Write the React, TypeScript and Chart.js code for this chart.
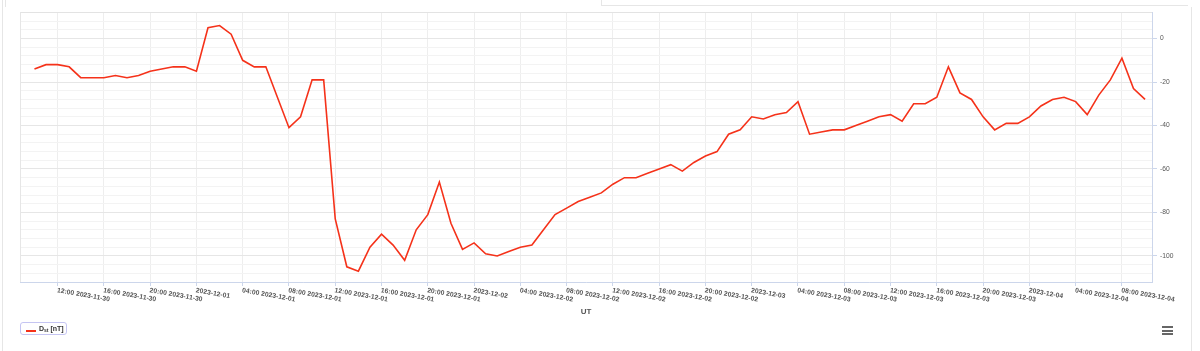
import React, { useEffect, useRef } from "react";
import { Chart, registerables } from "chart.js";

Chart.register(...registerables);

// Hourly Dst values starting 2023-11-30 10:00 UT (x = hours since 2023-11-30 00:00)
const firstHour = 10;
const dstValues = [
  -14, -12, -12, -13, -18, -18, -18, -17, -18, -17, -15, -14, -13, -13, -15, 5, 6, 2, -10, -13,
  -13, -27, -41, -36, -19, -19, -83, -105, -107, -96, -90, -95, -102, -88, -81, -66, -85, -97, -94, -99,
  -100, -98, -96, -95, -88, -81, -78, -75, -73, -71, -67, -64, -64, -62, -60, -58, -61, -57, -54, -52,
  -44, -42, -36, -37, -35, -34, -29, -44, -43, -42, -42, -40, -38, -36, -35, -38, -30, -30, -27, -13,
  -25, -28, -36, -42, -39, -39, -36, -31, -28, -27, -29, -35, -26, -19, -9, -23, -28,
];

const xTickHours = [12, 16, 20, 24, 28, 32, 36, 40, 44, 48, 52, 56, 60, 64, 68, 72, 76, 80, 84, 88, 92, 96, 100, 104];
const xTickLabels = [
  "12:00 2023-11-30", "16:00 2023-11-30", "20:00 2023-11-30", "2023-12-01",
  "04:00 2023-12-01", "08:00 2023-12-01", "12:00 2023-12-01", "16:00 2023-12-01",
  "20:00 2023-12-01", "2023-12-02", "04:00 2023-12-02", "08:00 2023-12-02",
  "12:00 2023-12-02", "16:00 2023-12-02", "20:00 2023-12-02", "2023-12-03",
  "04:00 2023-12-03", "08:00 2023-12-03", "12:00 2023-12-03", "16:00 2023-12-03",
  "20:00 2023-12-03", "2023-12-04", "04:00 2023-12-04", "08:00 2023-12-04",
];
const xMin = 8.75;
const xMax = 106.6;
const yMin = -112;
const yMax = 12;
const yStep = 4;
const yLabelStep = 20;
const xTitle = "UT";

const FONT = '"Liberation Sans", Arial, sans-serif';

const labelsPlugin = {
  id: "customLabels",
  beforeDatasetsDraw(chart: any) {
    const { ctx, chartArea } = chart;
    ctx.save();
    ctx.strokeStyle = "#e6e6e6";
    ctx.lineWidth = 1;
    ctx.beginPath();
    ctx.moveTo(chartArea.left + 0.5, chartArea.bottom);
    ctx.lineTo(chartArea.left + 0.5, chartArea.top);
    ctx.stroke();
    ctx.restore();
  },
  afterDraw(chart: any) {
    const { ctx, chartArea } = chart;
    const xs = chart.scales.x;
    ctx.save();
    ctx.font = `bold 6.8px ${FONT}`;
    ctx.fillStyle = "#555";
    ctx.textAlign = "left";
    ctx.textBaseline = "top";
    xTickHours.forEach((h, k) => {
      const x = xs.getPixelForValue(h);
      ctx.save();
      ctx.translate(x, 287);
      ctx.rotate((10 * Math.PI) / 180);
      ctx.fillText(xTickLabels[k], 0, 0);
      ctx.restore();
    });
    ctx.font = `bold 8px ${FONT}`;
    ctx.textAlign = "center";
    ctx.textBaseline = "middle";
    ctx.fillStyle = "#555";
    ctx.fillText(xTitle, (chartArea.left + chartArea.right) / 2, 312);
    ctx.restore();
  },
};

export default function App() {
  const canvasRef = useRef<HTMLCanvasElement | null>(null);

  useEffect(() => {
    if (!canvasRef.current) return;
    const points = dstValues.map((v, i) => ({ x: firstHour + i, y: v }));
    const chart = new Chart(canvasRef.current, {
      type: "line",
      data: {
        datasets: [
          {
            label: "Dst [nT]",
            data: points,
            borderColor: "#f5321a",
            borderWidth: 1.6,
            pointRadius: 0,
            tension: 0,
            fill: false,
          },
        ],
      },
      options: {
        responsive: false,
        animation: false,
        devicePixelRatio: 1,
        layout: { padding: { left: 20, top: 12.5, right: 0, bottom: 0 } },
        plugins: { legend: { display: false }, tooltip: { enabled: false } },
        scales: {
          x: {
            type: "linear",
            min: xMin,
            max: xMax,
            afterBuildTicks: (scale: any) => {
              scale.ticks = xTickHours.map((v) => ({ value: v }));
            },
            afterFit: (scale: any) => {
              scale.height = 69;
            },
            ticks: { display: false },
            grid: {
              color: "#eeeeee",
              drawTicks: true,
              tickLength: 4,
              tickColor: "#ccd6eb",
            },
            border: { display: true, color: "#ccd6eb" },
          },
          y: {
            position: "right",
            min: yMin,
            max: yMax,
            afterFit: (scale: any) => {
              scale.width = 48;
            },
            ticks: {
              stepSize: yStep,
              autoSkip: false,
              padding: 3,
              color: "#555",
              font: { family: FONT, size: 6.7 },
              callback: (v: any) => (Number(v) % yLabelStep === 0 ? String(v) : ""),
            },
            grid: {
              color: (c: any) => {
                const v = c.tick ? c.tick.value : 0;
                if (v === yMax) return "#e3e3e3";
                return v % yLabelStep === 0 ? "#e6e6e6" : "#f3f3f3";
              },
              tickColor: (c: any) => {
                const v = c.tick ? c.tick.value : 0;
                return v % yLabelStep === 0 ? "#ccd6eb" : "rgba(0,0,0,0)";
              },
              tickLength: 5,
              drawTicks: true,
            },
            border: { display: true, color: "#ccd6eb" },
          },
        },
      },
      plugins: [labelsPlugin],
    } as any);
    return () => chart.destroy();
  }, []);

  const line = (s: React.CSSProperties): React.CSSProperties => ({ position: "absolute", background: "#e6e6e6", ...s });

  return (
    <div style={{ position: "absolute", left: 0, top: 0, width: 1200, height: 351, overflow: "hidden", background: "#fff", fontFamily: FONT }}>
      <canvas ref={canvasRef} width={1200} height={351} style={{ position: "absolute", left: 0, top: 0, width: 1200, height: 351 }} />
      <div style={line({ left: 2, top: 0, width: 1, height: 351 })} />
      <div style={line({ left: 5, top: 0, width: 1, height: 7 })} />
      <div style={line({ left: 601, top: 0, width: 1, height: 6 })} />
      <div style={line({ left: 601, top: 5, width: 587, height: 1 })} />
      <div style={line({ left: 1191, top: 7, width: 1, height: 344 })} />
      <div
        style={{
          position: "absolute",
          left: 20,
          top: 322,
          width: 45,
          height: 11,
          border: "1px solid #c5c5f2",
          borderRadius: 3,
          background: "#fff",
        }}
      >
        <div style={{ position: "absolute", left: 5, top: 7, width: 10, height: 2, background: "#f5321a" }} />
        <div
          style={{
            position: "absolute",
            left: 18,
            top: 1,
            fontSize: 7,
            lineHeight: "9px",
            fontWeight: "bold",
            color: "#333",
            whiteSpace: "nowrap",
          }}
        >
          D<sub style={{ fontSize: 5, verticalAlign: "-1px" }}>st</sub> [nT]
        </div>
      </div>
      <div style={{ position: "absolute", left: 1162, top: 326, width: 11, height: 2, background: "#666" }} />
      <div style={{ position: "absolute", left: 1162, top: 329.5, width: 11, height: 2, background: "#666" }} />
      <div style={{ position: "absolute", left: 1162, top: 333, width: 11, height: 2, background: "#666" }} />
    </div>
  );
}
